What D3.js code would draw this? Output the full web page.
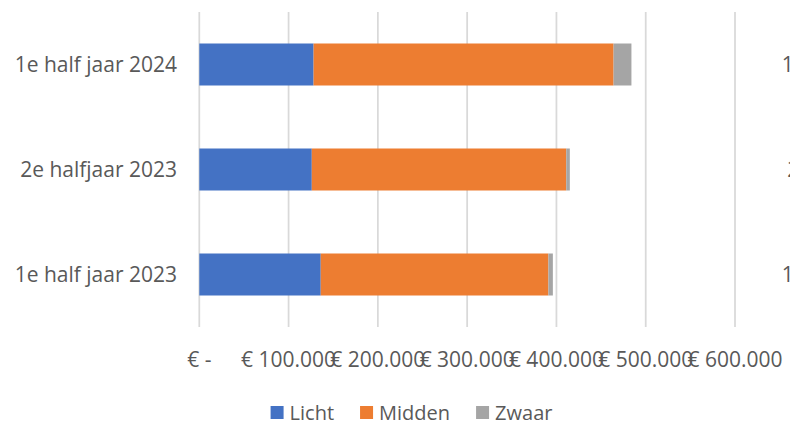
<!DOCTYPE html>
<html lang="nl">
<head>
<meta charset="UTF-8">
<title>Kosten per halfjaar</title>
<script src="https://cdn.jsdelivr.net/npm/d3@7"></script>
<style>
    html, body { margin: 0; padding: 0; background: #fff; }
    svg { display: block; }
    text { font-family: "Open Sans", "Noto Sans", sans-serif; fill: #595959; }
</style>
</head>
<body>
<script>
    // categorieën, van boven naar beneden
    var categories = ["1e half jaar 2024", "2e halfjaar 2023", "1e half jaar 2023"];
    var series = ["Licht", "Midden", "Zwaar"];
    var colors = ["#4472C4", "#ED7D31", "#A5A5A5"];
    // bedragen in euro's
    var licht = [128000, 126000, 136000];
    var midden = [336000, 285000, 255000];
    var zwaar = [20000, 4000, 5000];
    var ticks = [0, 100000, 200000, 300000, 400000, 500000, 600000];
    var tickLabels = ["€ -", "€ 100.000", "€ 200.000", "€ 300.000", "€ 400.000", "€ 500.000", "€ 600.000"];

    var W = 790, H = 424;
    var plot = { left: 199.3, right: 735, top: 12, bottom: 327 };

    var svg = d3.select("body").append("svg").attr("width", W).attr("height", H);

    var x = d3.scaleLinear().domain([0, 600000]).range([plot.left, plot.right]);
    var y = d3.scaleBand().domain(categories).range([plot.top, plot.bottom])
        .paddingInner(0.6).paddingOuter(0.3);

    // rasterlijnen
    svg.append("g").selectAll("line").data(ticks).join("line")
        .attr("x1", d => x(d)).attr("x2", d => x(d))
        .attr("y1", plot.top).attr("y2", plot.bottom)
        .attr("stroke", "#d9d9d9").attr("stroke-width", 1.75);

    // gestapelde balken
    var rows = categories.map((c, i) => ({ cat: c, Licht: licht[i], Midden: midden[i], Zwaar: zwaar[i] }));
    var stacked = d3.stack().keys(series)(rows);
    svg.append("g").selectAll("g").data(stacked).join("g")
        .attr("fill", (d, i) => colors[i])
        .selectAll("rect").data(d => d).join("rect")
        .attr("x", d => x(d[0]))
        .attr("width", d => x(d[1]) - x(d[0]))
        .attr("y", d => y(d.data.cat))
        .attr("height", y.bandwidth());

    // x-as labels
    svg.append("g").selectAll("text").data(ticks).join("text")
        .attr("x", d => x(d)).attr("y", 367)
        .attr("text-anchor", "middle").attr("font-size", 21)
        .text((d, i) => tickLabels[i]);

    // categorielabels
    svg.append("g").selectAll("text").data(categories).join("text")
        .attr("x", 177).attr("y", d => y(d) + y.bandwidth() / 2 + 7)
        .attr("text-anchor", "end").attr("font-size", 21)
        .text(d => d);

    // labels van de afgesneden grafiek rechts (ook in het origineel afgesneden)
    svg.append("g").selectAll("text").data(categories).join("text")
        .attr("x", 944).attr("y", d => y(d) + y.bandwidth() / 2 + 7)
        .attr("text-anchor", "end").attr("font-size", 21)
        .text(d => d);

    // legenda, gecentreerd
    var legend = svg.append("g");
    var lx = 0;
    series.forEach(function (s, i) {
        var item = legend.append("g").attr("transform", "translate(" + lx + ",0)");
        item.append("rect").attr("x", 0).attr("y", 406).attr("width", 13).attr("height", 13).attr("fill", colors[i]);
        var t = item.append("text").attr("x", 19).attr("y", 420).attr("font-size", 20).text(s);
        lx += 19 + t.node().getComputedTextLength() + 26;
    });
    var lw = lx - 26;
    legend.attr("transform", "translate(" + (411.5 - lw / 2) + ",0)");
</script>
</body>
</html>
